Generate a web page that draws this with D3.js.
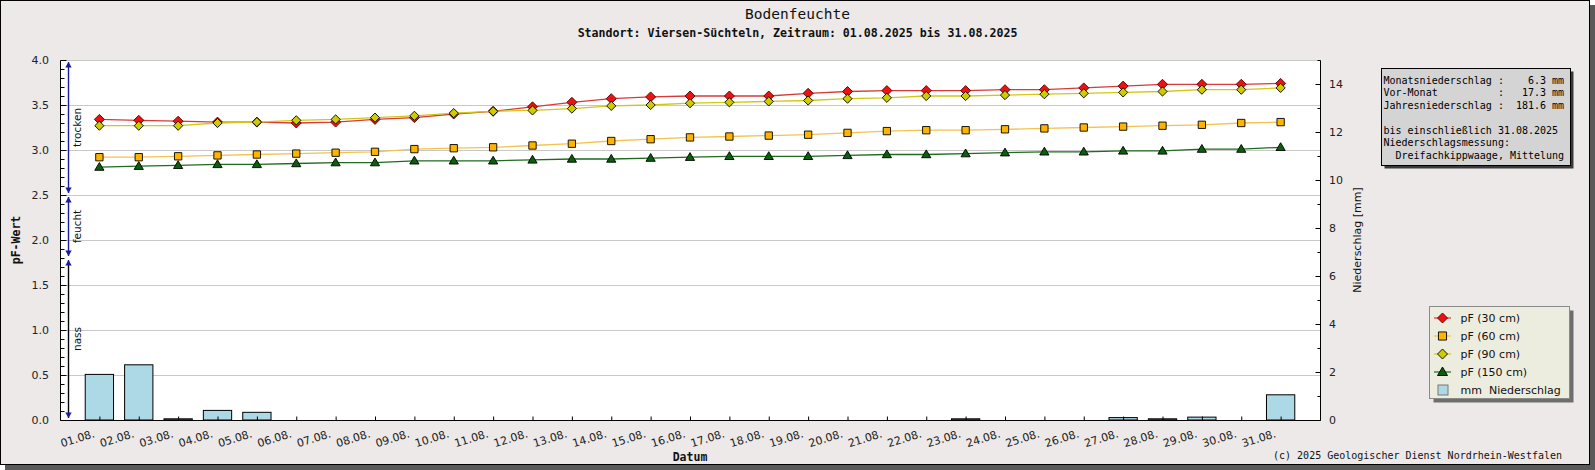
<!DOCTYPE html>
<html>
<head>
<meta charset="utf-8">
<script src="https://cdn.jsdelivr.net/npm/d3@7"></script>
<style>
	html, body { margin:0; padding:0; background:#fff; }
	svg text { font-family:'DejaVu Sans', sans-serif; }
	.mono { font-family:'DejaVu Sans Mono', monospace !important; white-space:pre; }
</style>
</head>
<body>
<svg id="chart-1" width="1595" height="470"></svg>
<script>
// Kategorien (Tage) und Messreihen
const dayLabels = ['01.08.','02.08.','03.08.','04.08.','05.08.','06.08.','07.08.','08.08.','09.08.','10.08.',
	'11.08.','12.08.','13.08.','14.08.','15.08.','16.08.','17.08.','18.08.','19.08.','20.08.',
	'21.08.','22.08.','23.08.','24.08.','25.08.','26.08.','27.08.','28.08.','29.08.','30.08.','31.08.'];

const pF30  = [3.34,3.33,3.32,3.31,3.31,3.30,3.31,3.34,3.36,3.40,3.43,3.48,3.53,3.57,3.59,3.60,
	3.60,3.60,3.63,3.65,3.66,3.66,3.66,3.67,3.67,3.69,3.71,3.73,3.73,3.73,3.74];
const pF60  = [2.92,2.92,2.93,2.94,2.95,2.96,2.97,2.98,3.01,3.02,3.03,3.05,3.07,3.10,3.12,3.14,
	3.15,3.16,3.17,3.19,3.21,3.22,3.22,3.23,3.24,3.25,3.26,3.27,3.28,3.30,3.31];
const pF90  = [3.27,3.27,3.27,3.30,3.31,3.33,3.34,3.36,3.38,3.41,3.43,3.44,3.46,3.49,3.50,3.52,
	3.53,3.54,3.55,3.57,3.58,3.60,3.60,3.61,3.62,3.63,3.64,3.65,3.67,3.67,3.69];
const pF150 = [2.81,2.82,2.83,2.84,2.84,2.85,2.86,2.86,2.88,2.88,2.88,2.89,2.90,2.90,2.91,2.92,
	2.93,2.93,2.93,2.94,2.95,2.95,2.96,2.97,2.98,2.98,2.99,2.99,3.01,3.01,3.03];
const rainMM = [1.9,2.3,0.05,0.4,0.32,0,0,0,0,0,0,0,0,0,0,0,
	0,0,0,0,0,0,0.05,0,0,0,0.1,0.05,0.12,0,1.05];

const leftTicks  = [0,0.5,1,1.5,2,2.5,3,3.5,4];
const rightTicks = [0,2,4,6,8,10,12,14];

// Bereiche am linken Rand: trocken / feucht / nass
const zoneNames = ['trocken','feucht','nass'];
const zoneFrom  = [2.5,1.8,0];
const zoneTo    = [4.0,2.5,1.8];

const infoLines = [
	'Monatsniederschlag :    6.3 mm',
	'Vor-Monat          :   17.3 mm',
	'Jahresniederschlag :  181.6 mm',
	'',
	'bis einschließlich 31.08.2025',
	'Niederschlagsmessung:',
	'  Dreifachkippwaage, Mittelung'
];

const legendLabels = ['pF (30 cm)','pF (60 cm)','pF (90 cm)','pF (150 cm)','mm  Niederschlag'];

const W = 1595, H = 470;
const svg = d3.select('svg#chart-1');

// Rahmen mit Schatten
svg.append('rect').attr('x',5).attr('y',5).attr('width',W-5).attr('height',H-5).attr('fill','#5a5a5a');
svg.append('rect').attr('x',0.5).attr('y',0.5).attr('width',1589).attr('height',464)
	.attr('fill','#ece9e8').attr('stroke','#000');

const plot = {left:60, right:1320, top:60, bottom:420};

const x = d3.scaleLinear().domain([0,32]).range([plot.left, plot.right]);
const yL = d3.scaleLinear().domain([0,4]).range([plot.bottom, plot.top]);
const yR = d3.scaleLinear().domain([0,15]).range([plot.bottom, plot.top]);

svg.append('rect')
	.attr('x',plot.left).attr('y',plot.top)
	.attr('width',plot.right-plot.left).attr('height',plot.bottom-plot.top)
	.attr('fill','#fff');

// Gitter
svg.append('g').selectAll('line').data(leftTicks.filter(d=>d>0))
	.enter().append('line')
		.attr('x1',plot.left).attr('x2',plot.right)
		.attr('y1',d=>Math.round(yL(d))+0.5).attr('y2',d=>Math.round(yL(d))+0.5)
		.attr('stroke','#c8c8c8');

// Niederschlagsbalken
const barW = 28.3;
svg.append('g').selectAll('rect').data(rainMM.map((v,i)=>({v:v,i:i})).filter(d=>d.v>0))
	.enter().append('rect')
		.attr('x',d=>x(d.i+1)-barW/2)
		.attr('y',d=>yR(d.v))
		.attr('width',barW)
		.attr('height',d=>plot.bottom-yR(d.v))
		.attr('fill','#add8e6')
		.attr('stroke','#000')
		.attr('stroke-width',1);

// Achsen
const axL = svg.append('g').attr('transform',`translate(${plot.left+0.5},0)`)
	.call(d3.axisRight(yL).tickValues(d3.range(0,4.01,0.1)).tickSize(4).tickFormat(''));
axL.selectAll('.tick line').attr('x2',(d)=>Math.abs(d*2-Math.round(d*2))<1e-6?6:4);
axL.select('.domain').remove();
svg.append('g').attr('transform',`translate(${plot.left-8},0)`)
	.call(d3.axisLeft(yL).tickValues(leftTicks).tickSize(0).tickFormat(d3.format('.1f')))
	.call(g=>g.select('.domain').remove())
	.selectAll('text').attr('font-size','11px').attr('fill','#222').attr('font-family','DejaVu Sans');

const axR = svg.append('g').attr('transform',`translate(${plot.right+0.5},0)`)
	.call(d3.axisLeft(yR).tickValues(d3.range(0,15.01,1)).tickSize(3).tickFormat(''));
axR.selectAll('.tick line').attr('x2',d=>d%2===0?-5:-3);
axR.select('.domain').remove();
svg.append('g').attr('transform',`translate(${plot.right+6},0)`)
	.call(d3.axisRight(yR).tickValues(rightTicks).tickSize(0).tickFormat(d3.format('d')))
	.call(g=>g.select('.domain').remove())
	.selectAll('text').attr('font-size','11px').attr('fill','#222').attr('font-family','DejaVu Sans');

const axB = svg.append('g').attr('transform',`translate(0,${plot.bottom+0.5})`)
	.call(d3.axisTop(x).tickValues(d3.range(1,32)).tickSize(4).tickFormat(''));
axB.select('.domain').remove();

svg.append('g').selectAll('text').data(dayLabels)
	.enter().append('text')
		.attr('transform',(d,i)=>`translate(${x(i+1)-4},437) rotate(-17)`)
		.attr('text-anchor','end')
		.attr('font-size','11px')
		.attr('fill','#222')
		.text(d=>d);

const axisLines = [[plot.left,plot.top,plot.left,plot.bottom],[plot.right,plot.top,plot.right,plot.bottom],
	[plot.left,plot.bottom,plot.right,plot.bottom]];
svg.append('g').selectAll('line').data(axisLines)
	.enter().append('line')
		.attr('x1',d=>d[0]+0.5).attr('y1',d=>d[1]+0.5)
		.attr('x2',d=>d[2]+0.5).attr('y2',d=>d[3]+0.5)
		.attr('stroke','#000');

// Zonenpfeile links
const zx = 68.5;
const arrow = (tipY, dir) => `M${zx},${tipY} L${zx-3.2},${tipY-5.5*dir} L${zx+3.2},${tipY-5.5*dir} Z`;
const zones = svg.append('g');
zoneNames.forEach((name,i)=>{
	const yTop = yL(zoneTo[i])+2, yBot = yL(zoneFrom[i])-2;
	zones.append('line').attr('x1',zx).attr('x2',zx).attr('y1',yTop).attr('y2',yBot)
		.attr('stroke',name==='nass'?'#000':'#1a1aa0').attr('stroke-width',1.4);
	zones.append('path').attr('d',arrow(yTop,-1)).attr('fill','#1a1aa0');
	zones.append('path').attr('d',arrow(yBot,1)).attr('fill','#1a1aa0');
	zones.append('text')
		.attr('transform',`translate(80.5,${(yTop+yBot)/2}) rotate(-90)`)
		.attr('text-anchor','middle')
		.attr('font-size','10.5px')
		.attr('fill','#111')
		.text(name);
});

// Linien + Marker
const series = [
	{data:pF30,  line:'#d83a3a', fill:'#ee1111', stroke:'#500', mark:'diamond', size:5},
	{data:pF60,  line:'#f4c250', fill:'#ffb400', stroke:'#000', mark:'square', size:4.7},
	{data:pF90,  line:'#d2c814', fill:'#cccc00', stroke:'#000', mark:'diamond', size:4.6},
	{data:pF150, line:'#1f6b1f', fill:'#0b5e0b', stroke:'#000', mark:'triangle', size:4.6}
];
const markPath = (m, cx, cy, s) => {
	if (m==='diamond') return `M${cx},${cy-s} L${cx+s},${cy} L${cx},${cy+s} L${cx-s},${cy} Z`;
	if (m==='square') return `M${cx-s*0.78},${cy-s*0.78} h${s*1.56} v${s*1.56} h${-s*1.56} Z`;
	return `M${cx},${cy-s} L${cx+s},${cy+s*0.7} L${cx-s},${cy+s*0.7} Z`;
};
const lineGen = d3.line().x((d,i)=>x(i+1)).y(d=>yL(d));
series.forEach(s=>{
	svg.append('path').datum(s.data)
		.attr('d',lineGen).attr('fill','none').attr('stroke',s.line).attr('stroke-width',1.3);
	svg.append('g').selectAll('path').data(s.data)
		.enter().append('path')
			.attr('d',(d,i)=>markPath(s.mark,x(i+1),yL(d),s.size))
			.attr('fill',s.fill).attr('stroke',s.stroke).attr('stroke-width',0.9);
});

// Titel
svg.append('text').attr('class','mono').attr('x',W/2).attr('y',19).attr('text-anchor','middle')
	.attr('font-size','14.5px').attr('fill','#111').text('Bodenfeuchte');
svg.append('text').attr('class','mono').attr('x',W/2).attr('y',37).attr('text-anchor','middle')
	.attr('font-size','11.6px').attr('font-weight','bold').attr('fill','#111')
	.text('Standort: Viersen-Süchteln, Zeitraum: 01.08.2025 bis 31.08.2025');

// Achsentitel
svg.append('text').attr('class','mono')
	.attr('transform',`translate(20,${(plot.top+plot.bottom)/2}) rotate(-90)`)
	.attr('text-anchor','middle').attr('font-size','11.5px').attr('font-weight','bold').attr('fill','#111')
	.text('pF-Wert');
svg.append('text')
	.attr('transform',`translate(1361,${(plot.top+plot.bottom)/2}) rotate(-90)`)
	.attr('text-anchor','middle').attr('font-size','11px').attr('fill','#111')
	.text('Niederschlag [mm]');
svg.append('text').attr('class','mono').attr('x',(plot.left+plot.right)/2).attr('y',461)
	.attr('text-anchor','middle').attr('font-size','11.5px').attr('font-weight','bold').attr('fill','#111')
	.text('Datum');
svg.append('text').attr('class','mono').attr('x',1562).attr('y',459)
	.attr('text-anchor','end').attr('font-size','10px').attr('fill','#111')
	.text('(c) 2025 Geologischer Dienst Nordrhein-Westfalen');

// Info-Kasten
const info = svg.append('g');
info.append('rect').attr('x',1384.5).attr('y',71.5).attr('width',189).attr('height',97).attr('fill','#3a3a3a');
info.append('rect').attr('x',1381.5).attr('y',68.5).attr('width',189).attr('height',97)
	.attr('fill','#d4d4d4').attr('stroke','#000');
info.selectAll('text').data(infoLines)
	.enter().append('text')
		.attr('class','mono')
		.attr('x',1383.5)
		.attr('y',(d,i)=>83.5+i*12.5)
		.attr('font-size','10px')
		.attr('fill','#000')
		.text(d=>d);

// Legende
const lg = svg.append('g');
lg.append('rect').attr('x',1433.5).attr('y',310.5).attr('width',140).attr('height',92).attr('fill','#6e6e6e');
lg.append('rect').attr('x',1429.5).attr('y',306.5).attr('width',140).attr('height',92)
	.attr('fill','#ededdf').attr('stroke','#8a8a8a');
legendLabels.forEach((lab,i)=>{
	const cy = 318 + i*18;
	if (i < series.length) {
		const s = series[i];
		lg.append('line').attr('x1',1434).attr('x2',1451).attr('y1',cy).attr('y2',cy)
			.attr('stroke',s.line).attr('stroke-width',1.2);
		lg.append('path').attr('d',markPath(s.mark,1442.5,cy,s.mark==='square'?5.2:5))
			.attr('fill',s.fill).attr('stroke',s.stroke).attr('stroke-width',0.9);
	} else {
		lg.append('rect').attr('x',1438).attr('y',cy-5).attr('width',10).attr('height',10)
			.attr('fill','#add8e6').attr('stroke','#777');
	}
	lg.append('text').attr('x',1460.5).attr('y',cy+4).attr('font-size','11px').attr('fill','#111')
		.style('white-space','pre').text(lab);
});
</script>
</body>
</html>
